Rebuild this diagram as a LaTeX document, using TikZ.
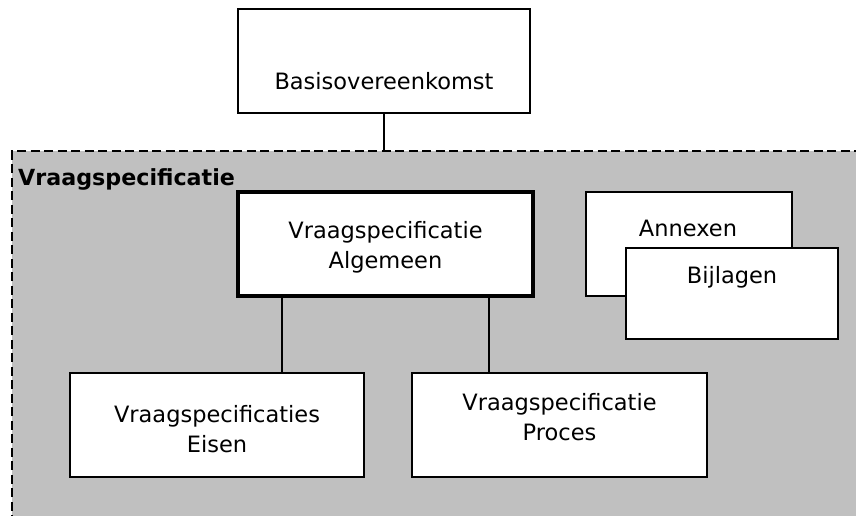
\documentclass[tikz,border=0pt]{standalone}
\usepackage{fontspec}
\setmainfont{DejaVu Sans}
\definecolor{regiongray}{HTML}{C0C0C0}
\begin{document}
\begin{tikzpicture}[x=1pt,y=-1pt,
  box/.style={draw=black,line width=1.8pt,fill=white,rectangle,inner sep=0pt,outer sep=0pt,anchor=north west},
  txt/.style={font=\fontsize{22.5}{30}\selectfont,align=center,inner sep=0pt},
  conn/.style={line width=1.8pt}]
\useasboundingbox (0,0) rectangle (856,516);
\fill[white] (0,0) rectangle (856,516);
% region
\draw[fill=regiongray,line width=1.5pt,dash pattern=on 9pt off 4.5pt] (870,530) -- (12,530) -- (12,151) -- (870,151);
\coordinate (regiontop) at (384,151);
\node[anchor=west,inner sep=0pt,font=\fontsize{22.2}{26}\selectfont\bfseries] (rlabel) at (18,179) {Vraagspecificatie};
% boxes
\node[box,minimum width=292pt,minimum height=104pt] (basis) at (238,9) {};
\node[txt] (basist) at (384,81) {Basisovereenkomst};
\node[box,line width=3.5pt,minimum width=295pt,minimum height=104pt] (alg) at (238,192) {};
\node[txt] (algt) at (385.5,247) {Vraagspecificatie\\Algemeen};
\node[box,minimum width=206pt,minimum height=104pt] (annex) at (586,192) {};
\node[txt] (annext) at (688,228) {Annexen};
\node[box,minimum width=212pt,minimum height=91pt] (bijl) at (626,248) {};
\node[txt] (bijlt) at (732,277) {Bijlagen};
\node[box,minimum width=294pt,minimum height=104pt] (eisen) at (70,373) {};
\node[txt] (eisent) at (217,429) {Vraagspecificaties\\Eisen};
\node[box,minimum width=295pt,minimum height=104pt] (proces) at (412,373) {};
\node[txt] (procest) at (559.5,417) {Vraagspecificatie\\Proces};
% connectors
\coordinate (c1) at (282,0);
\coordinate (c2) at (489,0);
\draw[conn] (basis.south) -- (basis.south |- regiontop);
\draw[conn] (alg.south -| c1) -- (eisen.north -| c1);
\draw[conn] (alg.south -| c2) -- (proces.north -| c2);
\end{tikzpicture}
\end{document}
